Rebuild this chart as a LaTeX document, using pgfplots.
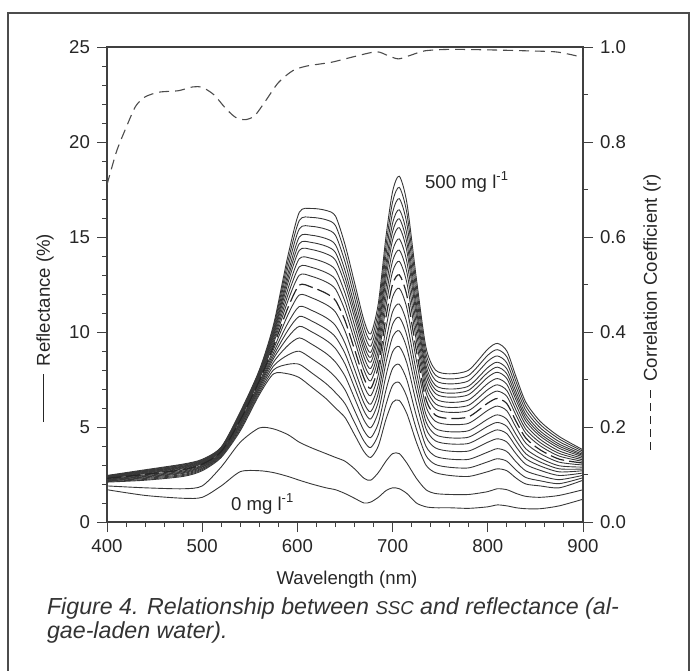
\documentclass[border=0pt]{standalone}
\usepackage{pgfplots}
\pgfplotsset{compat=1.18}
\usepackage{pgfplotstable}
\usepackage{fontspec}
\setmainfont{Liberation Sans}

% reflectance spectra (%), c0 = 0 mg/l ... b17 = 500 mg/l
\pgfplotstableread{
l   c0   c1   b0   b1   b2   b3   b4   b5   b6   b7   b8   b9   b10  b11  b12  b13  b14  b15  b16  b17
400 1.70 1.90 2.10 2.13 2.16 2.18 2.21 2.23 2.25 2.28 2.30 2.32 2.33 2.35 2.37 2.38 2.40 2.42 2.43 2.45
440 1.40 1.80 2.20 2.24 2.29 2.33 2.37 2.40 2.44 2.48 2.51 2.54 2.57 2.60 2.62 2.65 2.67 2.70 2.72 2.75
480 1.25 1.75 2.40 2.45 2.50 2.56 2.60 2.64 2.68 2.73 2.76 2.80 2.84 2.87 2.90 2.93 2.95 2.99 3.02 3.05
500 1.30 1.90 2.70 2.75 2.80 2.84 2.89 2.92 2.96 3.00 3.04 3.07 3.10 3.13 3.16 3.19 3.21 3.24 3.27 3.30
520 1.90 2.90 3.40 3.44 3.49 3.53 3.57 3.60 3.64 3.68 3.71 3.74 3.77 3.80 3.82 3.85 3.87 3.90 3.92 3.95
540 2.65 4.20 4.80 4.88 4.96 5.04 5.11 5.17 5.23 5.30 5.36 5.42 5.47 5.52 5.57 5.61 5.65 5.70 5.75 5.80
560 2.70 4.95 6.70 6.80 6.91 7.01 7.10 7.18 7.26 7.35 7.43 7.51 7.57 7.64 7.70 7.75 7.81 7.87 7.94 8.00
575 2.60 4.90 7.80 8.01 8.22 8.42 8.61 8.76 8.92 9.10 9.26 9.41 9.54 9.67 9.80 9.91 10.01 10.14 10.27 10.40
590 2.40 4.60 7.80 8.30 8.79 9.29 9.72 10.09 10.47 10.90 11.27 11.64 11.95 12.26 12.57 12.82 13.07 13.38 13.69 14.00
602 2.20 4.20 7.60 8.30 8.99 9.69 10.30 10.82 11.34 11.95 12.47 12.99 13.43 13.86 14.30 14.65 15.00 15.43 15.87 16.30
615 2.00 3.90 7.10 7.85 8.60 9.36 10.01 10.58 11.14 11.80 12.36 12.93 13.40 13.87 14.34 14.71 15.09 15.56 16.03 16.50
630 1.80 3.60 6.50 7.29 8.08 8.88 9.57 10.16 10.76 11.45 12.04 12.64 13.13 13.63 14.12 14.52 14.92 15.41 15.91 16.40
640 1.70 3.40 6.00 6.81 7.62 8.42 9.13 9.74 10.34 11.05 11.66 12.26 12.77 13.27 13.78 14.18 14.59 15.09 15.60 16.10
650 1.50 3.20 5.50 6.23 6.96 7.68 8.32 8.87 9.41 10.05 10.60 11.14 11.60 12.05 12.51 12.87 13.24 13.69 14.15 14.60
660 1.25 2.80 4.60 5.24 5.88 6.52 7.08 7.56 8.04 8.60 9.08 9.56 9.96 10.36 10.76 11.08 11.40 11.80 12.20 12.60
670 1.00 2.30 3.70 4.25 4.80 5.36 5.84 6.25 6.67 7.15 7.56 7.98 8.32 8.67 9.01 9.29 9.57 9.91 10.26 10.60
677 1.05 2.20 3.40 3.92 4.44 4.96 5.42 5.81 6.20 6.65 7.04 7.43 7.76 8.08 8.41 8.67 8.93 9.25 9.58 9.90
685 1.30 2.60 4.00 4.60 5.20 5.80 6.33 6.78 7.23 7.75 8.20 8.65 9.03 9.40 9.78 10.08 10.38 10.75 11.13 11.50
693 1.65 3.20 5.40 6.17 6.94 7.70 8.38 8.95 9.53 10.20 10.78 11.35 11.83 12.31 12.79 13.18 13.56 14.04 14.52 15.00
700 1.80 3.60 6.30 7.19 8.08 8.96 9.74 10.41 11.07 11.85 12.52 13.18 13.74 14.29 14.85 15.29 15.74 16.29 16.85 17.40
707 1.75 3.60 6.40 7.34 8.29 9.23 10.06 10.77 11.47 12.30 13.01 13.72 14.31 14.90 15.49 15.96 16.43 17.02 17.61 18.20
715 1.50 3.10 5.70 6.59 7.48 8.36 9.14 9.81 10.47 11.25 11.92 12.58 13.14 13.69 14.25 14.69 15.14 15.69 16.25 16.80
725 1.00 2.30 4.20 4.89 5.58 6.26 6.87 7.38 7.90 8.50 9.02 9.53 9.96 10.39 10.82 11.17 11.51 11.94 12.37 12.80
735 0.80 1.70 3.00 3.50 3.99 4.49 4.92 5.29 5.67 6.10 6.47 6.84 7.15 7.46 7.77 8.02 8.27 8.58 8.89 9.20
745 0.75 1.50 2.60 3.03 3.46 3.90 4.27 4.60 4.92 5.30 5.62 5.95 6.22 6.49 6.76 6.97 7.19 7.46 7.73 8.00
760 0.75 1.45 2.45 2.88 3.31 3.73 4.11 4.43 4.75 5.13 5.45 5.77 6.03 6.30 6.57 6.78 7.00 7.27 7.53 7.80
780 0.72 1.45 2.40 2.85 3.30 3.74 4.14 4.47 4.81 5.20 5.54 5.87 6.15 6.43 6.71 6.94 7.16 7.44 7.72 8.00
800 0.80 1.60 2.65 3.17 3.68 4.20 4.65 5.04 5.42 5.88 6.26 6.65 6.97 7.29 7.62 7.87 8.13 8.46 8.78 9.10
810 0.90 1.75 2.80 3.33 3.86 4.38 4.85 5.24 5.64 6.10 6.50 6.89 7.22 7.55 7.88 8.15 8.41 8.74 9.07 9.40
820 0.85 1.70 2.70 3.20 3.71 4.21 4.65 5.03 5.41 5.85 6.23 6.61 6.92 7.24 7.55 7.80 8.06 8.37 8.69 9.00
830 0.75 1.50 2.30 2.72 3.15 3.57 3.94 4.26 4.58 4.95 5.27 5.59 5.85 6.12 6.38 6.59 6.81 7.07 7.34 7.60
840 0.70 1.35 2.00 2.34 2.69 3.03 3.33 3.59 3.85 4.15 4.41 4.67 4.88 5.10 5.31 5.48 5.66 5.87 6.09 6.30
855 0.70 1.30 1.90 2.17 2.44 2.72 2.95 3.16 3.36 3.60 3.80 4.01 4.18 4.35 4.52 4.65 4.79 4.96 5.13 5.30
875 0.85 1.40 1.80 2.02 2.23 2.45 2.64 2.80 2.96 3.15 3.31 3.47 3.61 3.74 3.88 3.99 4.10 4.23 4.37 4.50
900 1.20 1.70 2.20 2.33 2.46 2.58 2.70 2.79 2.89 3.00 3.10 3.19 3.27 3.35 3.43 3.50 3.56 3.64 3.72 3.80
}\spec

% correlation coefficient r
\pgfplotstableread{
l   r
400 0.71
410 0.78
420 0.83
430 0.875
440 0.895
455 0.905
475 0.908
490 0.916
500 0.915
512 0.90
525 0.87
535 0.852
545 0.847
555 0.855
566 0.885
580 0.925
595 0.95
610 0.96
636 0.968
660 0.98
683 0.99
695 0.982
706 0.975
718 0.982
734 0.992
760 0.995
800 0.994
840 0.992
870 0.99
885 0.985
900 0.978
}\corr

\newcommand\dashes{\rule[0.3em]{4pt}{0.5pt}\hspace{2.5pt}\rule[0.3em]{4pt}{0.5pt}\hspace{2.5pt}\rule[0.3em]{4pt}{0.5pt}\hspace{2.5pt}\rule[0.3em]{4pt}{0.5pt}\hspace{2.5pt}\rule[0.3em]{4pt}{0.5pt}}

\begin{document}
\begin{tikzpicture}
\begin{scope}[x=0.5pt,y=-0.5pt]
\useasboundingbox (0,0) rectangle (694,670);
\draw[black!70, line width=0.7pt] (8,675) -- (8,13) -- (689,13) -- (689,675);
\end{scope}

\begin{axis}[
  at={(53.5pt,-261pt)}, anchor=south west,
  scale only axis, width=238pt, height=237.5pt,
  xmin=400, xmax=900, ymin=0, ymax=25,
  xtick={400,500,...,900}, ytick={0,5,...,25},
  minor x tick num=4, minor y tick num=4,
  tick pos=left, tick align=outside,
  major tick length=5pt, minor tick length=2.5pt,
  axis line style={black!75, line width=0.6pt},
  tick style={black!75, line width=0.5pt},
  ticklabel style={font=\fontsize{9.3}{10}\selectfont, text=black!85},
  /pgf/number format/assume math mode=true,
]
\pgfplotsinvokeforeach{c0,c1,b0,b1,b2,b3,b4,b5,b6,b7,b9,b10,b11,b12,b13,b14,b15,b16,b17}{
  \addplot[no marks, smooth, tension=0.45, black!78, line width=0.45pt] table[x=l, y=#1] {\spec};
}
\addplot[no marks, smooth, tension=0.45, dash pattern=on 7pt off 2.5pt, line width=0.6pt, black!85] table[x=l, y=b8] {\spec};
\end{axis}

\begin{axis}[
  at={(53.5pt,-261pt)}, anchor=south west,
  scale only axis, width=238pt, height=237.5pt,
  xmin=400, xmax=900, ymin=0, ymax=1,
  axis x line=none, axis y line*=right,
  ytick={0,0.2,0.4,0.6,0.8,1}, minor y tick num=1,
  tick align=outside,
  major tick length=5pt, minor tick length=2.5pt,
  axis line style={black!75, line width=0.6pt},
  tick style={black!75, line width=0.5pt},
  ticklabel style={font=\fontsize{9.3}{10}\selectfont, text=black!85},
  yticklabel style={/pgf/number format/.cd, fixed, fixed zerofill, precision=1},
  /pgf/number format/assume math mode=true,
]
\addplot[no marks, smooth, tension=0.45, black!70, line width=0.55pt, dash pattern=on 5pt off 3pt] table[x=l, y=r] {\corr};
\end{axis}

\begin{scope}[x=0.5pt,y=-0.5pt]
\node[anchor=base west, font=\fontsize{9.3}{10}\selectfont, text=black!85] at (418,188) {500 mg l\textsuperscript{-1}};
\node[anchor=base west, font=\fontsize{9.3}{10}\selectfont, text=black!85] at (224,510) {0 mg l\textsuperscript{-1}};
\node[font=\fontsize{9.3}{10}\selectfont, text=black!85] at (347,580) {Wavelength (nm)};
\node[rotate=90, font=\fontsize{9.3}{10}\selectfont, text=black!85] at (45,328) {\rule[0.3em]{24pt}{0.5pt}\hspace{4pt}Reflectance (\%)};
\node[rotate=90, font=\fontsize{9.3}{10}\selectfont, text=black!85] at (652,312) {\dashes\hspace{4pt}Correlation Coefficient (r)};
\node[anchor=base west, font=\itshape\fontsize{11.6}{13}\selectfont, text=black!80] at (40,614) {Figure 4. Relationship between {\fontsize{9.3}{10}\selectfont SSC} and reflectance (al-};
\node[anchor=base west, font=\itshape\fontsize{11.6}{13}\selectfont, text=black!80] at (40,638) {gae-laden water).};
\end{scope}
\end{tikzpicture}
\end{document}
